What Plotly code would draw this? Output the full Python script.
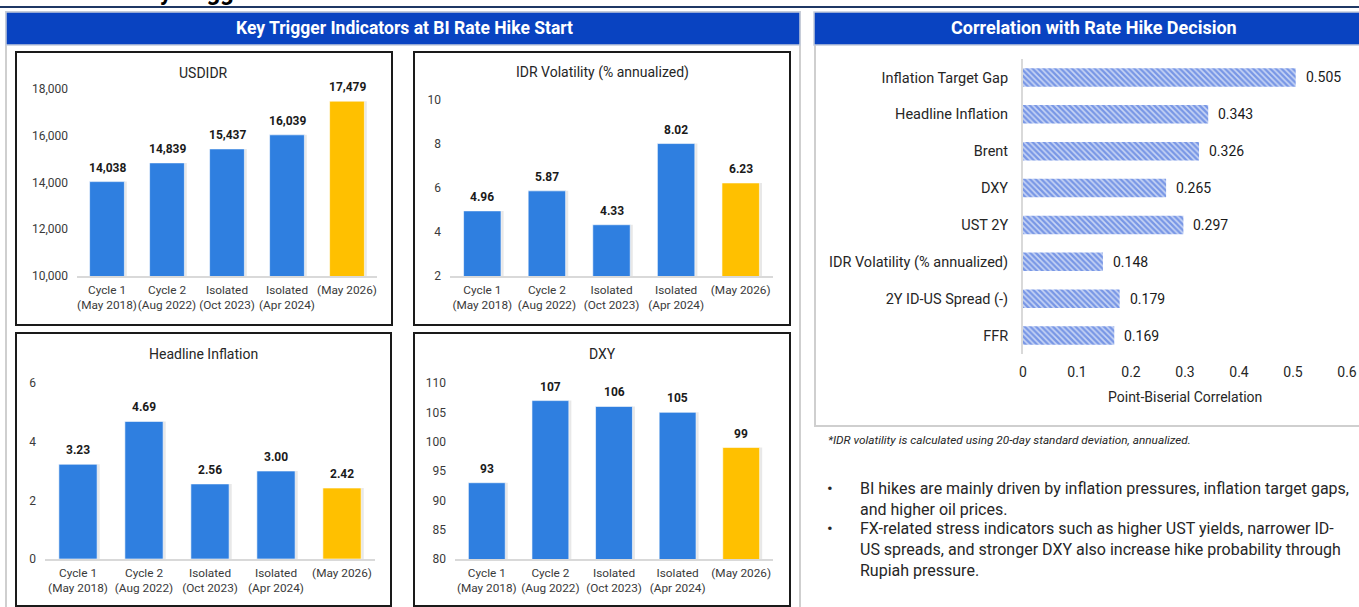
import plotly.graph_objects as go

W, H = 1359, 607

# ---- data -------------------------------------------------------------
categories = ["Cycle 1<br>(May 2018)", "Cycle 2<br>(Aug 2022)", "Isolated<br>(Oct 2023)",
              "Isolated<br>(Apr 2024)", "(May 2026)"]
usdidr = [14038, 14839, 15437, 16039, 17479]
idr_vol = [4.96, 5.87, 4.33, 8.02, 6.23]
headline_inflation = [3.23, 4.69, 2.56, 3.00, 2.42]
dxy = [93, 107, 106, 105, 99]

corr_labels = ["Inflation Target Gap", "Headline Inflation", "Brent", "DXY", "UST 2Y",
               "IDR Volatility (% annualized)", "2Y ID-US Spread (-)", "FFR"]
corr_values = [0.505, 0.343, 0.326, 0.265, 0.297, 0.148, 0.179, 0.169]

BLUE = "#2F7FE0"
GOLD = "#FFC000"
HEADER = "#0943C1"
FONT = "Roboto"
bar_colors = [BLUE] * 4 + [GOLD]


def px_x(p):
    return p / W


def px_y(p):
    return 1 - p / H


fig = go.Figure()
annotations = []
shapes = []

# ---- four small bar panels -------------------------------------------
panels = [
    # title, values, label format, y range, y tick step, plot box (x0, x1, ytop, ybottom), frame box, tickformat
    ("USDIDR", usdidr, "{:,.0f}", [10000, 18000], 2000, (77, 377, 89, 276), (16, 392, 52, 325), ",.0f"),
    ("IDR Volatility (% annualized)", idr_vol, "{:.2f}", [2, 10], 2, (450, 773, 100, 276), (414, 790, 52, 325), ""),
    ("Headline Inflation", headline_inflation, "{:.2f}", [0, 6], 2, (45, 375, 383, 559), (16, 391, 333, 606), ""),
    ("DXY", dxy, "{:.0f}", [80, 110], 5, (455, 773, 383, 559), (414, 790, 333, 606), ""),
]

for i, (title, vals, fmt, yr, dt, (x0, x1, yt, yb), (bx0, bx1, by0, by1), tf) in enumerate(panels, start=1):
    xa = "x" if i == 1 else f"x{i}"
    ya = "y" if i == 1 else f"y{i}"
    # soft drop shadow behind each bar
    fig.add_trace(go.Bar(x=categories, y=vals, xaxis=xa, yaxis=ya, width=0.58, offset=-0.25,
                         marker=dict(color="rgba(0,0,0,0.09)", line_width=0),
                         hoverinfo="skip", showlegend=False))
    fig.add_trace(go.Bar(x=categories, y=vals, xaxis=xa, yaxis=ya, width=0.58, offset=-0.29,
                         marker=dict(color=bar_colors, line=dict(color="rgba(255,255,255,0.6)", width=1)),
                         showlegend=False))
    for c, v in zip(categories, vals):
        annotations.append(dict(x=c, y=v, xref=xa, yref=ya, text=fmt.format(v), showarrow=False,
                                xanchor="center", yanchor="bottom", yshift=5,
                                font=dict(family=FONT, size=12, color="#1a1a1a", weight="bold")))
    suffix = "" if i == 1 else str(i)
    fig.layout["xaxis" + suffix] = dict(domain=[px_x(x0), px_x(x1)], anchor=ya, type="category",
                                        showline=True, linecolor="#D9D9D9", linewidth=1.5,
                                        showgrid=False, zeroline=False, ticks="", tickangle=0,
                                        tickfont=dict(family=FONT, size=11.8, color="#3a3a3a"),
                                        ticklabelstandoff=2, fixedrange=True)
    fig.layout["yaxis" + suffix] = dict(domain=[px_y(yb), px_y(yt)], anchor=xa, range=yr, dtick=dt,
                                        tick0=yr[0], showgrid=False, zeroline=False, showline=False,
                                        tickformat=tf, ticks="",
                                        tickfont=dict(family=FONT, size=12, color="#3a3a3a"),
                                        ticklabelstandoff=8, fixedrange=True)
    # panel frame and title
    shapes.append(dict(type="rect", xref="paper", yref="paper", x0=px_x(bx0), x1=px_x(bx1),
                       y0=px_y(by1), y1=px_y(by0), line=dict(color="#1a1a1a", width=2), layer="below"))
    annotations.append(dict(x=px_x((bx0 + bx1) / 2), y=px_y(by0 + 21), xref="paper", yref="paper",
                            text=title, showarrow=False, xanchor="center", yanchor="middle",
                            font=dict(family=FONT, size=14, color="#262626")))

# ---- correlation bar chart -------------------------------------------
fig.add_trace(go.Bar(x=corr_values, y=corr_labels, orientation="h", xaxis="x5", yaxis="y5",
                     width=0.5,
                     marker=dict(color="#C9D6F5",
                                 pattern=dict(shape="\\", fgcolor="#2857D6", bgcolor="#C9D6F5",
                                              size=4, solidity=0.6, fillmode="overlay"),
                                 line_width=0),
                     showlegend=False))
for lab, v in zip(corr_labels, corr_values):
    annotations.append(dict(x=v, y=lab, xref="x5", yref="y5", text=f"{v:.3f}", showarrow=False,
                            xanchor="left", yanchor="middle", xshift=8,
                            font=dict(family=FONT, size=14, color="#1a1a1a")))

fig.layout["xaxis5"] = dict(domain=[px_x(1023), px_x(1347)], anchor="y5", range=[0, 0.6], dtick=0.1,
                            showgrid=False, zeroline=False, showline=False, ticks="",
                            tickfont=dict(family=FONT, size=14, color="#262626"),
                            ticklabelstandoff=8, fixedrange=True)
fig.layout["yaxis5"] = dict(domain=[px_y(354), px_y(59)], anchor="x5", type="category",
                            autorange="reversed", showgrid=False, zeroline=False,
                            showline=True, linecolor="#D9D9D9", linewidth=2, ticks="",
                            tickfont=dict(family=FONT, size=14.5, color="#262626"),
                            ticklabelstandoff=10, fixedrange=True)
annotations.append(dict(x=px_x(1185), y=px_y(397), xref="paper", yref="paper",
                        text="Point-Biserial Correlation", showarrow=False,
                        xanchor="center", yanchor="middle",
                        font=dict(family=FONT, size=14, color="#262626")))

# ---- frames, headers and notes ---------------------------------------
shapes += [
    dict(type="line", xref="paper", yref="paper", x0=0, x1=1, y0=px_y(7), y1=px_y(7),
         line=dict(color="#1F3864", width=2)),
    dict(type="rect", xref="paper", yref="paper", x0=px_x(6), x1=px_x(800), y0=px_y(612), y1=px_y(12),
         line=dict(color="#CFCFCF", width=2), layer="below"),
    dict(type="rect", xref="paper", yref="paper", x0=px_x(815), x1=px_x(1365), y0=px_y(426), y1=px_y(44),
         line=dict(color="#CFCFCF", width=2), layer="below"),
    dict(type="rect", xref="paper", yref="paper", x0=px_x(6), x1=px_x(800), y0=px_y(45), y1=px_y(12),
         fillcolor=HEADER, line=dict(color="#C3CCDB", width=1.5)),
    dict(type="rect", xref="paper", yref="paper", x0=px_x(814), x1=px_x(1365), y0=px_y(45), y1=px_y(12),
         fillcolor=HEADER, line=dict(color="#C3CCDB", width=1.5)),
]

annotations += [
    dict(x=px_x(130), y=px_y(8), xref="paper", yref="paper", text="Key Triggers", showarrow=False,
         xanchor="left", yanchor="bottom", font=dict(family=FONT, size=24, color="black", weight="bold")),
    dict(x=px_x(404), y=px_y(28), xref="paper", yref="paper", xanchor="center", yanchor="middle",
         text="Key Trigger Indicators at BI Rate Hike Start", showarrow=False,
         font=dict(family="Liberation Sans Narrow, Roboto", size=17.5, color="white", weight="bold")),
    dict(x=px_x(1094), y=px_y(28), xref="paper", yref="paper", xanchor="center", yanchor="middle",
         text="Correlation with Rate Hike Decision", showarrow=False,
         font=dict(family=FONT, size=18, color="white", weight="bold")),
    dict(x=px_x(826), y=px_y(440), xref="paper", yref="paper", xanchor="left", yanchor="middle",
         text="<i>*IDR volatility is calculated using 20-day standard deviation, annualized.</i>",
         showarrow=False, font=dict(family=FONT, size=11.8, color="#262626")),
]

bullets = [
    (488, "BI hikes are mainly driven by inflation pressures, inflation target gaps,<br>and higher oil prices."),
    (528, "FX-related stress indicators such as higher UST yields, narrower ID-<br>US spreads, and stronger DXY also increase hike probability through<br>Rupiah pressure."),
]
for top, txt in bullets:
    annotations.append(dict(x=px_x(825), y=px_y(top), xref="paper", yref="paper", xanchor="left",
                            yanchor="middle", text="•", showarrow=False,
                            font=dict(family=FONT, size=17, color="#262626")))
    annotations.append(dict(x=px_x(858), y=px_y(top - 11), xref="paper", yref="paper", xanchor="left",
                            yanchor="top", align="left", text=txt, showarrow=False,
                            font=dict(family=FONT, size=16, color="#262626")))

fig.update_layout(width=W, height=H, margin=dict(l=0, r=0, t=0, b=0, autoexpand=False),
                  paper_bgcolor="white", plot_bgcolor="rgba(0,0,0,0)",
                  barmode="overlay", bargap=0.4, showlegend=False,
                  annotations=annotations, shapes=shapes,
                  font=dict(family=FONT))

# page without default margins or scrollbars so the figure sits flush in the window
fig.write_html("out.html", config={"displayModeBar": False},
               post_script=("document.documentElement.style.margin='0';"
                            "document.documentElement.style.padding='0';"
                            "document.body.style.margin='0';"
                            "document.body.style.padding='0';"
                            "document.body.style.overflow='hidden';"))
